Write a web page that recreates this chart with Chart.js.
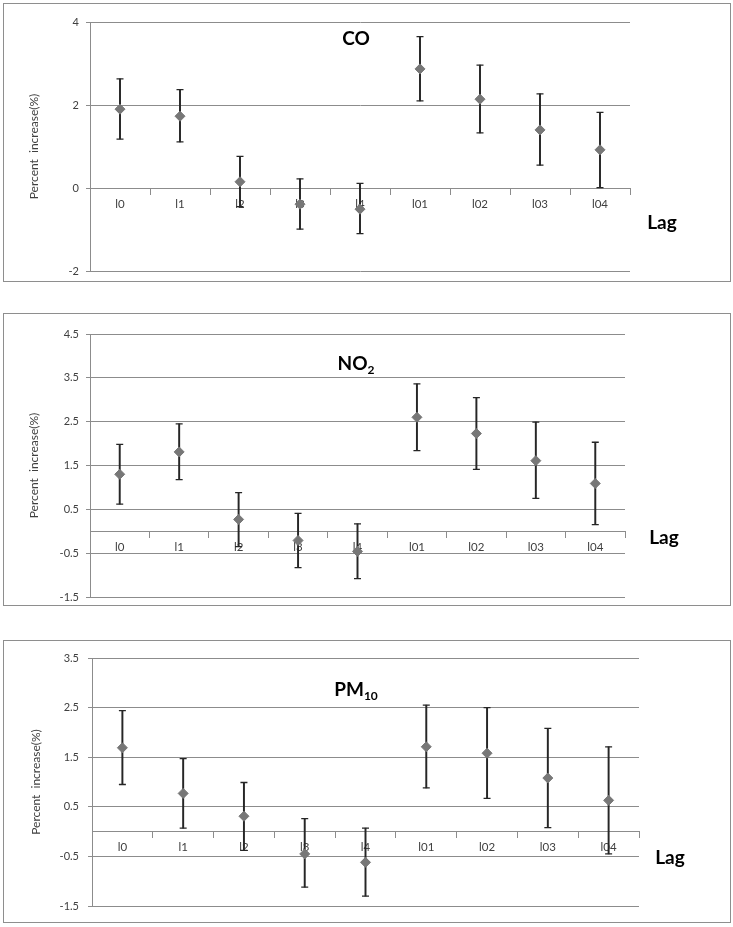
<!DOCTYPE html>
<html>
<head>
<meta charset="utf-8">
<script src="https://cdn.jsdelivr.net/npm/chart.js@4/dist/chart.umd.min.js"></script>
<style>
  html, body { margin: 0; padding: 0; background: #ffffff; }
  body { width: 733px; height: 927px; position: relative; overflow: hidden; font-family: Lato, "Open Sans", sans-serif; }
  .box { position: absolute; left: 3px; width: 728px; box-sizing: border-box; border: 1px solid #8e8e8e; }
  canvas { position: absolute; left: 0; }
  .ttl { position: absolute; font-weight: bold; font-size: 19px; color: #000; transform: translate(-50%, -50%); white-space: nowrap; line-height: 1; }
  .ttl sub { font-size: 12px; vertical-align: -4px; line-height: 0; }
  .lag { position: absolute; font-weight: bold; font-size: 19px; color: #000; transform: translate(-50%, -50%); line-height: 1; }
</style>
</head>
<body>
<div class="box" style="top:3px;height:279px"></div>
<div class="box" style="top:313px;height:293px"></div>
<div class="box" style="top:640px;height:283px"></div>
<canvas id="c1" width="733" height="289" style="top:3px"></canvas>
<canvas id="c2" width="733" height="303" style="top:313px"></canvas>
<canvas id="c3" width="733" height="287" style="top:640px"></canvas>
<div class="ttl" style="left:356px;top:37px">CO</div>
<div class="ttl" style="left:356px;top:362px">NO<sub>2</sub></div>
<div class="ttl" style="left:356px;top:688px">PM<sub>10</sub></div>
<div class="lag" style="left:662px;top:221px">Lag</div>
<div class="lag" style="left:664px;top:536px">Lag</div>
<div class="lag" style="left:670px;top:856px">Lag</div>
<script>
// ---- data ----
const LAGS = ['l0','l1','l2','l3','l4','l01','l02','l03','l04'];

const CO_EST  = [1.90, 1.73, 0.15, -0.39, -0.51, 2.87, 2.14, 1.40, 0.92];
const CO_LOW  = [1.18, 1.11, -0.45, -0.99, -1.10, 2.10, 1.33, 0.55, 0.01];
const CO_HIGH = [2.63, 2.37, 0.76, 0.22, 0.11, 3.65, 2.96, 2.27, 1.82];
const CO_TICKS = [-2, 0, 2, 4];

const NO2_EST  = [1.30, 1.81, 0.27, -0.21, -0.46, 2.60, 2.23, 1.61, 1.09];
const NO2_LOW  = [0.62, 1.18, -0.35, -0.83, -1.08, 1.84, 1.41, 0.75, 0.15];
const NO2_HIGH = [1.98, 2.45, 0.88, 0.41, 0.17, 3.36, 3.05, 2.49, 2.03];
const NO2_TICKS = [-1.5, -0.5, 0.5, 1.5, 2.5, 3.5, 4.5];

const PM10_EST  = [1.69, 0.77, 0.31, -0.45, -0.62, 1.71, 1.58, 1.08, 0.63];
const PM10_LOW  = [0.95, 0.07, -0.38, -1.12, -1.30, 0.88, 0.67, 0.08, -0.45];
const PM10_HIGH = [2.44, 1.47, 0.99, 0.26, 0.07, 2.55, 2.50, 2.08, 1.71];
const PM10_TICKS = [-1.5, -0.5, 0.5, 1.5, 2.5, 3.5];

const Y_TITLE = 'Percent  increase(%)';

// ---- drawing ----
const GRID = '#8c8c8c';
const TXT = '#404040';
const BAR = '#262626';
const MARK = '#777777';

function makePanel(id, est, low, high, ticks, geo) {
  const yMin = ticks[0], yMax = ticks[ticks.length - 1];
  new Chart(document.getElementById(id), {
    data: {
      labels: LAGS,
      datasets: [
        { type: 'line', data: est, showLine: false, pointStyle: 'rectRot', pointRadius: 5,
          pointBackgroundColor: MARK, pointBorderColor: MARK, pointBorderWidth: 1, order: 0 },
        { type: 'line', data: high, showLine: false, pointStyle: 'line', pointRadius: 3.5,
          pointBorderColor: BAR, pointBorderWidth: 1.3, order: 1 },
        { type: 'line', data: low, showLine: false, pointStyle: 'line', pointRadius: 3.5,
          pointBorderColor: BAR, pointBorderWidth: 1.3, order: 1 },
        { type: 'bar', data: low.map((v, i) => [v, high[i]]), backgroundColor: BAR,
          borderWidth: 0, barThickness: 1.3, order: 2 }
      ]
    },
    options: {
      responsive: false, animation: false,
      layout: { padding: { left: 0, top: geo.padTop, bottom: geo.padBottom, right: geo.padRight } },
      plugins: { legend: { display: false }, tooltip: { enabled: false }, title: { display: false } },
      scales: {
        x: {
          type: 'category', position: { y: 0 }, offset: true,
          grid: { offset: true, drawOnChartArea: false, drawTicks: true, tickLength: 6, color: GRID, lineWidth: 1 },
          border: { display: true, color: GRID, width: 1 },
          ticks: { color: TXT, font: { family: 'Lato', size: 11.5 }, padding: 3, maxRotation: 0, autoSkip: false }
        },
        y: {
          type: 'linear', min: yMin, max: yMax,
          afterBuildTicks: s => { s.ticks = ticks.map(v => ({ value: v })); },
          afterFit: s => { s.width = geo.left; },
          grid: { color: GRID, lineWidth: 1, tickLength: 4, drawTicks: true },
          border: { display: true, color: GRID, width: 1 },
          ticks: { color: TXT, font: { family: 'Lato', size: 11 }, padding: geo.tickPad, callback: v => String(v) },
          title: { display: true, text: Y_TITLE, color: TXT, font: { family: 'Lato', size: 12 }, padding: { top: geo.titlePad, bottom: 0 } }
        }
      }
    }
  });
}

// chart-area placement inside each canvas (canvas is 10px taller than its frame)
makePanel('c1', CO_EST, CO_LOW, CO_HIGH, CO_TICKS,
  { left: 90, padTop: 19, padBottom: 21, padRight: 103, tickPad: 7, titlePad: 27 });
makePanel('c2', NO2_EST, NO2_LOW, NO2_HIGH, NO2_TICKS,
  { left: 90, padTop: 21, padBottom: 19, padRight: 108, tickPad: 7, titlePad: 27 });
makePanel('c3', PM10_EST, PM10_LOW, PM10_HIGH, PM10_TICKS,
  { left: 92, padTop: 18, padBottom: 21, padRight: 94, tickPad: 9, titlePad: 29 });
</script>
</body>
</html>
